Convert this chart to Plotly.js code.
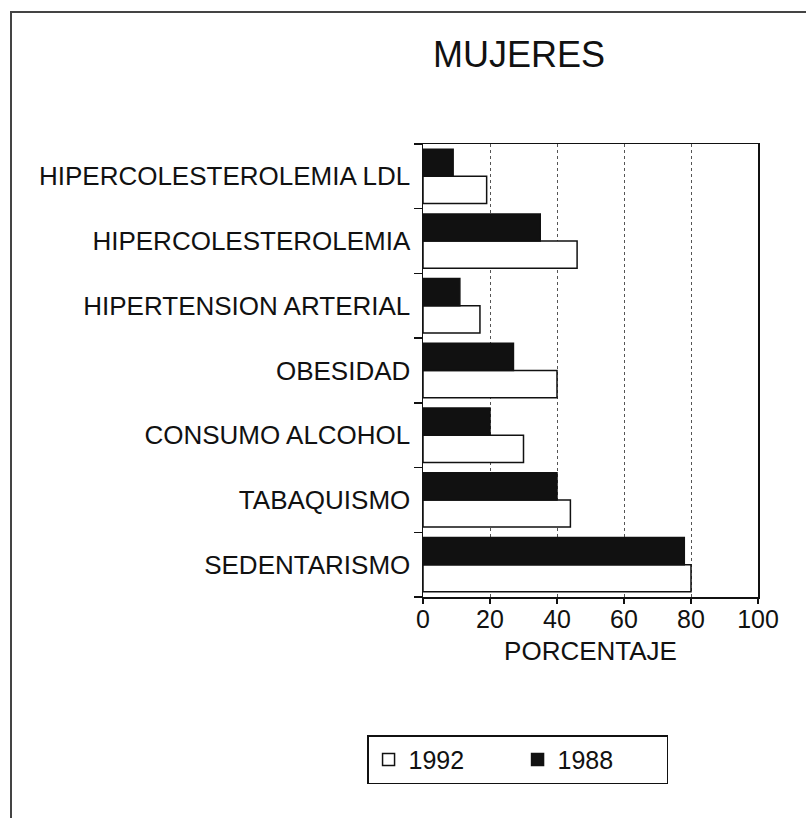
<!DOCTYPE html>
<html>
<head>
<meta charset="utf-8">
<script src="https://cdn.plot.ly/plotly-3.0.1.min.js"></script>
<style>
  html, body { margin: 0; padding: 0; background: #fff; }
  #wrap { position: relative; width: 806px; height: 818px; overflow: hidden; }
  #frame { position: absolute; left: 10px; top: 11px; width: 820px; height: 830px;
           border-left: 2px solid #444; border-top: 2px solid #444; pointer-events: none; }
  #chart { width: 806px; height: 818px; }
</style>
</head>
<body>
<div id="wrap">
  <div id="chart"></div>
  <div id="frame"></div>
</div>
<script>
// Categories, top to bottom as shown in the reference
const categories = [
  "HIPERCOLESTEROLEMIA LDL",
  "HIPERCOLESTEROLEMIA",
  "HIPERTENSION ARTERIAL",
  "OBESIDAD",
  "CONSUMO ALCOHOL",
  "TABAQUISMO",
  "SEDENTARISMO"
];
const values1992 = [19, 46, 17, 40, 30, 44, 80];
const values1988 = [9, 35, 11, 27, 20, 40, 78];
const xTicks = [0, 20, 40, 60, 80, 100];
const seriesNames = ["1992", "1988"];

const font = "Liberation Sans, Arial, Helvetica, sans-serif";

const traces = [
  {
    type: "bar", orientation: "h", name: seriesNames[0],
    y: categories, x: values1992,
    marker: { color: "#ffffff", line: { color: "#111111", width: 1.5 } },
    hoverinfo: "x+y"
  },
  {
    type: "bar", orientation: "h", name: seriesNames[1],
    y: categories, x: values1988,
    marker: { color: "#111111", line: { color: "#111111", width: 1.5 } },
    hoverinfo: "x+y"
  }
];

const layout = {
  width: 806, height: 818,
  paper_bgcolor: "#ffffff", plot_bgcolor: "#ffffff",
  margin: { l: 423, r: 48, t: 144, b: 221, pad: 0 },
  font: { family: font, color: "#111111", size: 25 },
  title: {
    text: "MUJERES",
    font: { family: font, size: 36, color: "#111111" },
    x: 0.644, xref: "container", xanchor: "center",
    y: 0.933, yref: "container", yanchor: "middle"
  },
  barmode: "group",
  bargap: 0.16,
  bargroupgap: 0,
  showlegend: true,
  legend: {
    orientation: "h",
    x: -0.167, xanchor: "left",
    y: -0.305, yanchor: "top",
    bordercolor: "#111111", borderwidth: 1.5,
    bgcolor: "#ffffff",
    font: { family: font, size: 25, color: "#111111" },
    traceorder: "normal",
    entrywidth: 104
  },
  xaxis: {
    range: [0, 100],
    tickvals: xTicks,
    ticktext: xTicks.map(String),
    ticks: "outside", ticklen: 5, tickcolor: "#111111", tickwidth: 1.5,
    ticklabelstandoff: -6,
    tickfont: { family: font, size: 25, color: "#111111" },
    showgrid: true, gridcolor: "#555555", griddash: "dot", gridwidth: 1,
    showline: true, linecolor: "#111111", linewidth: 1.5, mirror: true,
    zeroline: false,
    title: { text: "PORCENTAJE", font: { family: font, size: 26, color: "#111111" }, standoff: 10 },
    fixedrange: true
  },
  yaxis: {
    type: "category",
    categoryorder: "array",
    categoryarray: categories.slice().reverse(),
    tickson: "boundaries",
    ticks: "outside", ticklen: 8, tickcolor: "#111111", tickwidth: 1.5,
    ticklabelstandoff: 6,
    tickfont: { family: font, size: 26, color: "#111111" },
    showgrid: false,
    showline: true, linecolor: "#111111", linewidth: 1.5, mirror: true,
    zeroline: false,
    fixedrange: true
  }
};

Plotly.newPlot("chart", traces, layout, { displayModeBar: false, staticPlot: true });
</script>
</body>
</html>
